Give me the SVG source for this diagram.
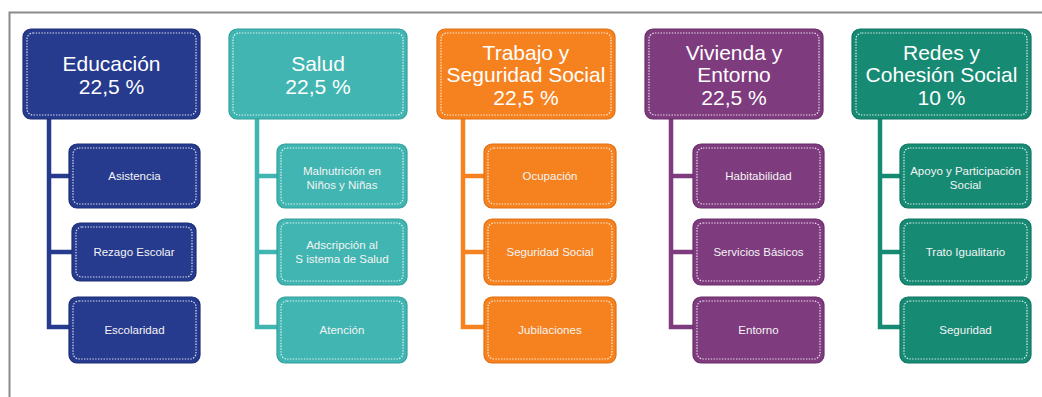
<svg xmlns="http://www.w3.org/2000/svg" width="1042" height="397" viewBox="0 0 1042 397">
<style>
.frame{fill:none;stroke:#8a8a8a;stroke-width:2}
.box{stroke-width:1.2}
.dot{fill:none;stroke:#ffffff;stroke-opacity:0.85;stroke-width:1.2;stroke-dasharray:1.4 1.4}
.t{font-family:"Liberation Sans",Arial,sans-serif;font-size:21px;fill:#ffffff;text-anchor:middle}
.s{font-family:"Liberation Sans",Arial,sans-serif;font-size:11.5px;fill:#f4f4f4;text-anchor:middle}
.c{fill:none;stroke-width:4.5}
.edu{fill:#263a8e;stroke:#1d2e75}
.sal{fill:#40b5b1;stroke:#33a09c}
.tra{fill:#f5821f;stroke:#e07014}
.viv{fill:#7e3b7e;stroke:#6b2f6b}
.red{fill:#168a73;stroke:#0f7763}
</style>
<rect width="1042" height="397" fill="#ffffff"/>
<rect class="frame" x="9.5" y="12.5" width="1100" height="500"/>
<g id="connectors">
<path class="c" stroke="#263a8e" d="M49 119 V329 M47 176 H70 M47 252 H73 M47 327 H70"/>
<path class="c" stroke="#40b5b1" d="M257 119 V329 M255 176 H278 M255 252 H278 M255 327 H278"/>
<path class="c" stroke="#f5821f" d="M463 119 V329 M461 176 H485 M461 252 H485 M461 327 H485"/>
<path class="c" stroke="#7e3b7e" d="M671 119 V329 M669 176 H694 M669 252 H694 M669 327 H694"/>
<path class="c" stroke="#168a73" d="M880 119 V329 M878 176 H901 M878 252 H901 M878 327 H901"/>
</g>
<g id="educacion">
<rect class="box edu" x="23" y="29" width="177" height="90" rx="8"/>
<rect class="dot" x="27" y="33" width="169" height="82" rx="6"/>
<text class="t" x="111.5" y="71">Educación</text>
<text class="t" x="111.5" y="94">22,5 %</text>
</g>
<g id="asistencia">
<rect class="box edu" x="69" y="144" width="131" height="64" rx="8"/>
<rect class="dot" x="73" y="148" width="123" height="56" rx="6"/>
<text class="s" x="134.5" y="180">Asistencia</text>
</g>
<g id="rezago">
<rect class="box edu" x="72" y="223" width="124" height="58" rx="8"/>
<rect class="dot" x="76" y="227" width="116" height="50" rx="6"/>
<text class="s" x="134" y="256">Rezago Escolar</text>
</g>
<g id="escolaridad">
<rect class="box edu" x="69" y="297" width="131" height="66" rx="8"/>
<rect class="dot" x="73" y="301" width="123" height="58" rx="6"/>
<text class="s" x="134.5" y="334">Escolaridad</text>
</g>
<g id="salud">
<rect class="box sal" x="229" y="29" width="178" height="90" rx="8"/>
<rect class="dot" x="233" y="33" width="170" height="82" rx="6"/>
<text class="t" x="318" y="71">Salud</text>
<text class="t" x="318" y="94">22,5 %</text>
</g>
<g id="malnutricion">
<rect class="box sal" x="277" y="144" width="130" height="64" rx="8"/>
<rect class="dot" x="281" y="148" width="122" height="56" rx="6"/>
<text class="s" x="342" y="175">Malnutrición en</text>
<text class="s" x="342" y="189">Niños y Niñas</text>
</g>
<g id="adscripcion">
<rect class="box sal" x="277" y="219" width="130" height="66" rx="8"/>
<rect class="dot" x="281" y="223" width="122" height="58" rx="6"/>
<text class="s" x="342" y="249">Adscripción al</text>
<text class="s" x="342" y="263">S istema de Salud</text>
</g>
<g id="atencion">
<rect class="box sal" x="277" y="297" width="130" height="66" rx="8"/>
<rect class="dot" x="281" y="301" width="122" height="58" rx="6"/>
<text class="s" x="342" y="334">Atención</text>
</g>
<g id="trabajo">
<rect class="box tra" x="437" y="29" width="178" height="90" rx="8"/>
<rect class="dot" x="441" y="33" width="170" height="82" rx="6"/>
<text class="t" x="526" y="60">Trabajo y</text>
<text class="t" x="526" y="82">Seguridad Social</text>
<text class="t" x="526" y="105">22,5 %</text>
</g>
<g id="ocupacion">
<rect class="box tra" x="484" y="144" width="132" height="64" rx="8"/>
<rect class="dot" x="488" y="148" width="124" height="56" rx="6"/>
<text class="s" x="550" y="180">Ocupación</text>
</g>
<g id="seguridad-social">
<rect class="box tra" x="484" y="219" width="132" height="66" rx="8"/>
<rect class="dot" x="488" y="223" width="124" height="58" rx="6"/>
<text class="s" x="550" y="256">Seguridad Social</text>
</g>
<g id="jubilaciones">
<rect class="box tra" x="484" y="297" width="132" height="66" rx="8"/>
<rect class="dot" x="488" y="301" width="124" height="58" rx="6"/>
<text class="s" x="550" y="334">Jubilaciones</text>
</g>
<g id="vivienda">
<rect class="box viv" x="645" y="29" width="178" height="90" rx="8"/>
<rect class="dot" x="649" y="33" width="170" height="82" rx="6"/>
<text class="t" x="734" y="60">Vivienda y</text>
<text class="t" x="734" y="82">Entorno</text>
<text class="t" x="734" y="105">22,5 %</text>
</g>
<g id="habitabilidad">
<rect class="box viv" x="693" y="144" width="131" height="64" rx="8"/>
<rect class="dot" x="697" y="148" width="123" height="56" rx="6"/>
<text class="s" x="758.5" y="180">Habitabilidad</text>
</g>
<g id="servicios">
<rect class="box viv" x="693" y="219" width="131" height="66" rx="8"/>
<rect class="dot" x="697" y="223" width="123" height="58" rx="6"/>
<text class="s" x="758.5" y="256">Servicios Básicos</text>
</g>
<g id="entorno">
<rect class="box viv" x="693" y="297" width="131" height="66" rx="8"/>
<rect class="dot" x="697" y="301" width="123" height="58" rx="6"/>
<text class="s" x="758.5" y="334">Entorno</text>
</g>
<g id="redes">
<rect class="box red" x="852" y="29" width="179" height="90" rx="8"/>
<rect class="dot" x="856" y="33" width="171" height="82" rx="6"/>
<text class="t" x="941.5" y="60">Redes y</text>
<text class="t" x="941.5" y="82">Cohesión Social</text>
<text class="t" x="941.5" y="105">10 %</text>
</g>
<g id="apoyo">
<rect class="box red" x="900" y="144" width="131" height="64" rx="8"/>
<rect class="dot" x="904" y="148" width="123" height="56" rx="6"/>
<text class="s" x="965.5" y="175">Apoyo y Participación</text>
<text class="s" x="965.5" y="189">Social</text>
</g>
<g id="trato">
<rect class="box red" x="900" y="219" width="131" height="66" rx="8"/>
<rect class="dot" x="904" y="223" width="123" height="58" rx="6"/>
<text class="s" x="965.5" y="256">Trato Igualitario</text>
</g>
<g id="seguridad">
<rect class="box red" x="900" y="297" width="131" height="66" rx="8"/>
<rect class="dot" x="904" y="301" width="123" height="58" rx="6"/>
<text class="s" x="965.5" y="334">Seguridad</text>
</g>
</svg>
